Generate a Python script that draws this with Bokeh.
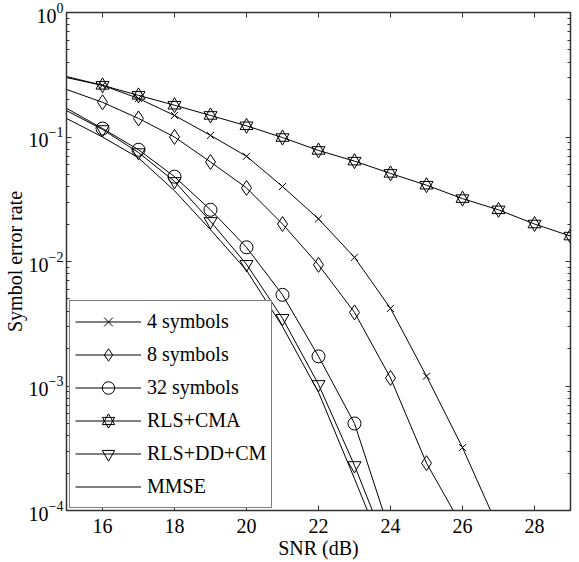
from bokeh.plotting import figure
from bokeh.models import (LogAxis, LinearAxis, LogTicker, SingleIntervalTicker, Range1d,
                          CustomLabelingPolicy)
from bokeh.embed import file_html
from bokeh.resources import INLINE

snr = [15, 16, 17, 18, 19, 20, 21, 22, 23, 24, 25, 26, 27, 28, 29]

ser_4sym = [0.306, 0.26, 0.204, 0.149, 0.103, 0.070, 0.040, 0.022, 0.0108, 0.0042, 0.0012, 0.00032, 7.2e-5]
ser_8sym = [0.241, 0.19, 0.141, 0.10, 0.063, 0.039, 0.020, 0.0094, 0.0039, 0.00116, 0.00024, 7.4e-5]
ser_32sym = [0.17, 0.117, 0.079, 0.048, 0.026, 0.013, 0.0054, 0.00173, 0.0005, 6.5e-5]
ser_rls_cma = [0.30, 0.26, 0.216, 0.18, 0.149, 0.123, 0.099, 0.078, 0.064, 0.051, 0.041, 0.032, 0.026, 0.020, 0.016]
ser_rls_dd_cm = [0.163, 0.115, 0.075, 0.044, 0.021, 0.0095, 0.0035, 0.00103, 0.00023, 4.3e-5]
ser_mmse = [0.141, 0.10, 0.068, 0.037, 0.018, 0.0085, 0.0030, 0.00089, 0.00018, 3.5e-5]

labels = ["4 symbols", "8 symbols", "32 symbols", "RLS+CMA", "RLS+DD+CM", "MMSE"]

FONT = "Liberation Serif"

p = figure(width=579, height=562, x_range=Range1d(15, 29), y_range=Range1d(1e-4, 1),
           y_axis_type="log", output_backend="svg", toolbar_location=None,
           min_border_left=63, min_border_right=9, min_border_top=12, min_border_bottom=52)
p.background_fill_color = "white"
p.border_fill_color = "white"
p.grid.visible = False
p.outline_line_color = "#333333"
p.outline_line_width = 1.5

def add(series, label, markers, size):
    xs = snr[:len(series)]
    p.line(xs, series, line_color="black", line_width=1, legend_label=label)
    for m in markers:
        p.scatter(xs[1:], series[1:], marker=m, size=size, fill_color=None,
                  line_color="black", line_width=1, legend_label=label)

add(ser_4sym, labels[0], ["x"], 10)
add(ser_8sym, labels[1], ["diamond"], 15)
add(ser_32sym, labels[2], ["circle"], 13)
add(ser_rls_cma, labels[3], ["triangle", "inverted_triangle"], 13)
add(ser_rls_dd_cm, labels[4], ["inverted_triangle"], 13)
add(ser_mmse, labels[5], [], 10)

# axes styling
for ax in [p.xaxis[0], p.yaxis[0]]:
    ax.major_tick_in = 5
    ax.major_tick_out = 0
    ax.minor_tick_in = 3
    ax.minor_tick_out = 0
    ax.axis_line_color = "#333333"
    ax.major_tick_line_color = "#333333"
    ax.minor_tick_line_color = "#333333"
    ax.major_label_text_font = FONT
    ax.major_label_text_font_size = "20px"
    ax.major_label_text_color = "black"
    ax.axis_label_text_font = FONT
    ax.axis_label_text_font_size = "20px"
    ax.axis_label_text_font_style = "normal"
    ax.axis_label_text_color = "black"

p.xaxis[0].ticker = SingleIntervalTicker(interval=2, num_minor_ticks=0)
p.xaxis[0].axis_label = "SNR (dB)"
p.xaxis[0].major_label_standoff = 8
p.xaxis[0].axis_label_standoff = 1
p.yaxis[0].ticker = LogTicker(mantissas=[1], num_minor_ticks=10)
p.yaxis[0].axis_label = "Symbol error rate"
p.yaxis[0].major_label_standoff = 3
p.yaxis[0].axis_label_standoff = 0

no_labels = CustomLabelingPolicy(code="return new Set()")
top = LinearAxis(ticker=SingleIntervalTicker(interval=2, num_minor_ticks=0))
right = LogAxis(ticker=LogTicker(mantissas=[1], num_minor_ticks=10))
for ax in [top, right]:
    ax.major_tick_in = 5
    ax.major_tick_out = 0
    ax.minor_tick_in = 3
    ax.minor_tick_out = 0
    ax.axis_line_color = "#333333"
    ax.major_tick_line_color = "#333333"
    ax.minor_tick_line_color = "#333333"
    ax.major_label_policy = no_labels
    ax.major_label_text_font_size = "1px"
    ax.major_label_standoff = 0
p.add_layout(top, "above")
p.add_layout(right, "right")

lg = p.legend[0]
lg.location = (3, 2)
lg.border_line_color = "black"
lg.border_line_width = 1
lg.background_fill_color = "white"
lg.background_fill_alpha = 1
lg.label_text_font = FONT
lg.label_text_font_size = "20px"
lg.label_text_color = "black"
lg.glyph_width = 66
lg.glyph_height = 31
lg.label_height = 31
lg.spacing = 2
lg.padding = 5
lg.margin = 0
lg.label_standoff = 6

open("out.html", "w").write(file_html(p, INLINE))
